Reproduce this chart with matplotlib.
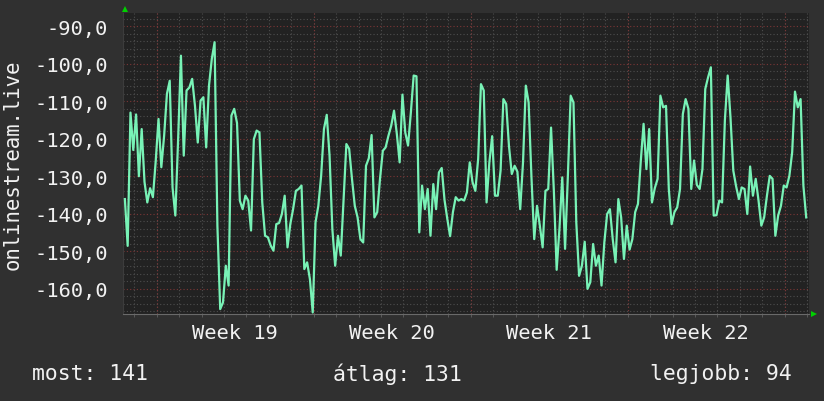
import matplotlib
matplotlib.use('Agg')
import matplotlib.pyplot as plt
import matplotlib.dates as mdates
from matplotlib.ticker import MultipleLocator, FuncFormatter
import pandas as pd

# ranking (negative = higher position), 3-hour samples
rank = [
    -136.1, -148.6, -113.0, -123.0, -113.5, -130.0, -117.4, -131.5, -137.0, -133.2,
    -135.6, -126.0, -114.7, -127.6, -119.2, -108.0, -104.5, -133.0, -140.5, -120.0,
    -97.8, -124.5, -107.1, -106.3, -104.0, -111.2, -121.0, -109.8, -108.9, -122.3,
    -105.8, -98.7, -94.2, -143.2,
    -165.5, -163.7, -153.9, -159.2, -113.8, -112.0, -115.8, -136.5, -138.8, -135.2,
    -136.5, -144.5, -120.1, -117.8, -118.3, -137.0, -145.9, -146.3, -148.5, -149.9,
    -142.8, -142.5, -140.1, -135.2, -149.0, -142.8, -138.8, -133.9, -133.4, -132.5,
    -154.8, -153.0, -157.5, -166.4, -142.3,
    -137.9, -129.9, -117.4, -113.6, -124.5, -144.1, -153.9, -145.9, -151.2, -136.5,
    -121.4, -122.7, -130.7, -137.9, -141.0, -146.8, -147.7, -127.2, -125.2, -119.0,
    -141.0, -139.6, -130.7, -123.2, -122.3, -119.2, -116.5, -112.5, -118.7, -126.3,
    -108.2, -118.3, -121.8, -113.0, -103.1,
    -103.3, -145.0, -132.5, -138.8, -133.4, -145.9, -132.1, -138.8, -129.0, -127.8,
    -136.3, -141.4, -146.0, -139.6, -135.6, -136.5, -136.1, -136.5, -134.3, -126.3,
    -131.6, -133.9, -125.4, -105.4, -107.1, -137.0, -126.3, -119.3, -135.2, -135.2,
    -128.5, -109.4, -110.7, -122.0, -129.4,
    -127.2, -128.8, -138.8, -126.3, -105.8, -110.3, -130.0, -146.8, -137.9, -143.2,
    -149.0, -133.9, -133.4, -117.0, -133.9, -155.0, -144.0, -130.3, -149.4, -129.9,
    -108.5, -110.3, -142.3, -156.6, -153.9, -147.5, -160.1, -158.3, -148.1, -153.9,
    -151.2, -159.2, -147.7, -140.1, -138.8,
    -146.8, -153.0, -136.1, -141.0, -152.1, -143.2, -149.6, -146.8, -139.6, -137.4,
    -126.0, -116.0, -128.1, -117.4, -137.0, -133.2, -130.7, -108.5, -111.6, -111.2,
    -133.4, -142.8, -139.6, -138.3, -133.4, -113.4, -109.4, -112.0, -133.4, -125.8,
    -132.3, -133.4, -128.1, -106.7, -103.6,
    -100.9, -140.5, -140.4, -136.5, -137.0, -115.0, -103.1, -114.3, -128.5, -132.7,
    -136.1, -133.0, -133.4, -140.1, -127.4, -135.2, -130.7, -136.5, -143.2, -141.0,
    -135.2, -129.9, -130.7, -145.9, -140.5, -137.9, -132.5, -133.0, -129.9, -123.6,
    -107.4, -111.6, -109.4, -132.5, -141.0,
]
start = '2024-05-04 14:00'
week_numbers = [19, 20, 21, 22]
most_val = 141
atlag_val = 131
legjobb_val = 94

times = pd.date_range(start, periods=len(rank), freq='3h')
mondays = pd.date_range('2024-05-06', periods=5, freq='7D')
label_pos = [m + pd.Timedelta(hours=84) for m in mondays[:len(week_numbers)]]

plt.rcParams['font.family'] = ['DejaVu Sans Mono']
fg = '#f2f2f2'
red = '#7c3636'
gray = '#4e4e4e'

W, H = 824, 402
fig = plt.figure(figsize=(W / 100, H / 100), dpi=100, facecolor='#303030')
ax = fig.add_axes([123 / W, (H - 315) / H, 686 / W, 301 / H])
ax.set_facecolor('#222222')
ax.set_axisbelow(True)

ax.plot(times, rank, color='#78f2b6', lw=1.6, zorder=3)

ax.set_xlim(pd.Timestamp('2024-05-04 12:00'), pd.Timestamp('2024-06-04 02:00'))
ax.set_ylim(-166.8, -86.4)

# y axis
ax.yaxis.set_major_locator(MultipleLocator(10))
ax.yaxis.set_minor_locator(MultipleLocator(2))
ax.yaxis.set_major_formatter(FuncFormatter(lambda v, p: f'{v:.1f}'.replace('.', ',')))
ax.grid(which='minor', axis='y', color=gray, ls=(0, (1, 2)), lw=0.8)
ax.grid(which='major', axis='y', color=red, ls=(0, (1, 2)), lw=0.8)

# x axis: day grid, red at week start, labels mid-week
ax.xaxis.set_minor_locator(mdates.DayLocator())
ax.grid(which='minor', axis='x', color=gray, ls=(0, (1, 2)), lw=0.8)
for m in mondays:
    ax.axvline(m, color=red, ls=(0, (1, 2)), lw=0.8, zorder=1)
ax.set_xticks(label_pos)
ax.set_xticklabels([f'Week {n}' for n in week_numbers])

ax.tick_params(axis='both', which='major', length=0, labelsize=14.7, colors=fg)
ax.tick_params(axis='y', which='major', pad=11)
ax.tick_params(axis='x', which='major', pad=6.5)
ax.tick_params(axis='y', which='minor', length=0)
ax.tick_params(axis='x', which='minor', length=2, color='#606060')

for s in ['top', 'right']:
    ax.spines[s].set_visible(False)
ax.spines['left'].set_color('#3c3c3c')
ax.spines['bottom'].set_color('#6a6a6a')

# little green arrows at the axis ends
ax.plot([0.003], [1.012], marker='^', color='#00d000', ms=4.5, mew=0,
        transform=ax.transAxes, clip_on=False)
ax.plot([1.0066], [0.001], marker='>', color='#00d000', ms=4.5, mew=0,
        transform=ax.transAxes, clip_on=False)

fig.text(12.5 / W, 1 - 165 / H, 'onlinestream.live', rotation=90, ha='center',
         va='center', color=fg, fontsize=14.9)

ly = 1 - 374 / H
fs_leg = 15.4
fig.text(32 / W, ly, f'most: {most_val}', ha='left', va='center', color=fg, fontsize=fs_leg)
fig.text(333 / W, ly, f'átlag: {atlag_val}', ha='left', va='center', color=fg, fontsize=fs_leg)
fig.text(792 / W, ly, f'legjobb: {legjobb_val}', ha='right', va='center', color=fg, fontsize=fs_leg)

fig.savefig('out.png', dpi=100, facecolor=fig.get_facecolor())
